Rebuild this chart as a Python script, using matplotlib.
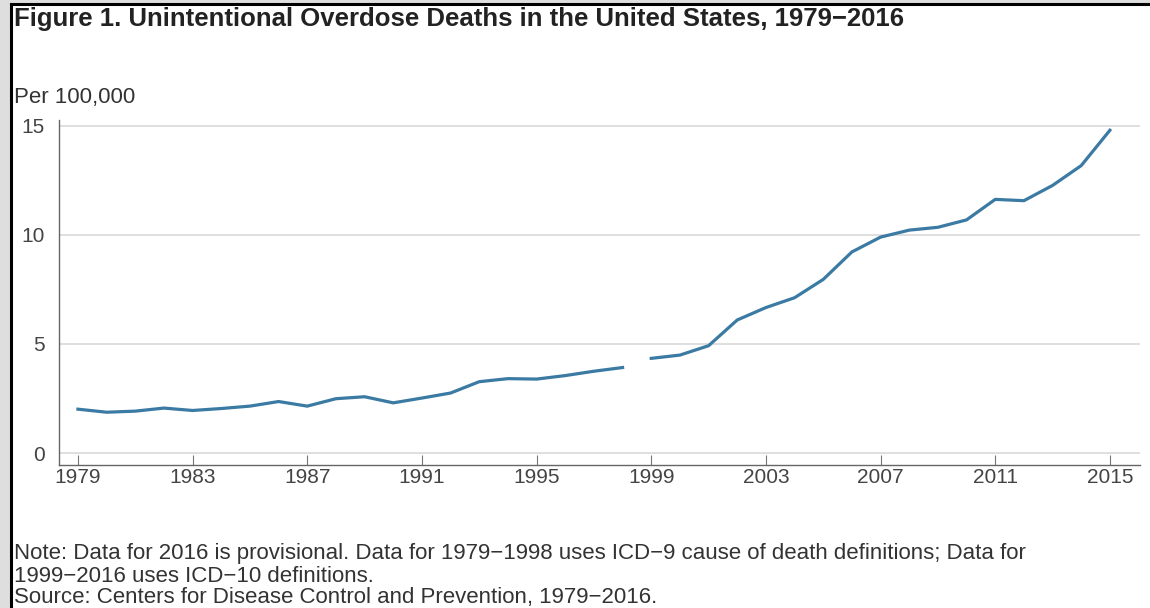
#!/usr/bin/env python3

import matplotlib.pyplot as plt
from matplotlib.patches import Rectangle

# ICD-9 era, 1979-1998
years_icd9 = list(range(1979, 1999))
rate_icd9 = [2.01, 1.87, 1.92, 2.06, 1.95, 2.04, 2.15, 2.36, 2.15, 2.49,
             2.58, 2.30, 2.52, 2.75, 3.27, 3.41, 3.39, 3.55, 3.75, 3.92]

# ICD-10 era, 1999-2015
years_icd10 = list(range(1999, 2016))
rate_icd10 = [4.34, 4.49, 4.92, 6.10, 6.67, 7.12, 7.96, 9.22, 9.90, 10.22,
              10.35, 10.69, 11.63, 11.57, 12.27, 13.18, 14.80]

xticks = list(range(1979, 2016, 4))
yticks = [0, 5, 10, 15]

title = "Figure 1. Unintentional Overdose Deaths in the United States, 1979\u22122016"
note_lines = [
    "Note: Data for 2016 is provisional. Data for 1979\u22121998 uses ICD\u22129 "
    "cause of death definitions; Data for",
    "1999\u22122016 uses ICD\u221210 definitions.",
    "Source: Centers for Disease Control and Prevention, 1979\u22122016.",
]


def main():
    plt.rcParams["font.family"] = ["Liberation Sans", "DejaVu Sans"]

    W, H = 1150, 608
    fig = plt.figure(figsize=(W / 100, H / 100), dpi=100, facecolor="#dedede")

    # white panel with black frame on the left and top
    fig.add_artist(Rectangle((11 / W, 0), 1, 1 - 4 / H, transform=fig.transFigure,
                             facecolor="white", edgecolor="none", zorder=-10))
    fig.add_artist(plt.Line2D([11 / W, 11 / W], [0, 1 - 4 / H], color="black",
                              lw=2.2, transform=fig.transFigure, zorder=-5))
    fig.add_artist(plt.Line2D([11 / W, 1], [1 - 4 / H, 1 - 4 / H], color="black",
                              lw=2.2, transform=fig.transFigure, zorder=-5))

    ax = fig.add_axes([59 / W, 1 - 465 / H, (1140 - 59) / W, (465 - 120) / H])
    ax.set_facecolor("white")

    color = "#3a7aa3"
    ax.plot(years_icd9, rate_icd9, color=color, lw=2.3)
    ax.plot(years_icd10, rate_icd10, color=color, lw=2.3)

    ax.set_xlim(1978.34, 2016.05)
    ax.set_ylim(-0.55, 15.27)

    ax.set_yticks(yticks)
    ax.set_yticklabels([str(v) for v in yticks])
    ax.set_xticks(xticks)
    ax.set_xticklabels([str(v) for v in xticks])

    ax.grid(axis="y", color="#d9d9d9", lw=1.2)
    ax.set_axisbelow(True)

    for side in ["top", "right"]:
        ax.spines[side].set_visible(False)
    for side in ["left", "bottom"]:
        ax.spines[side].set_color("#666666")
        ax.spines[side].set_linewidth(1.0)

    ax.tick_params(axis="y", length=0, pad=10, labelsize=15, labelcolor="#444444")
    ax.tick_params(axis="x", direction="in", length=7, width=0.8, color="#777777",
                   pad=2, labelsize=15, labelcolor="#444444")

    fig.text(14 / W, 1 - 19 / H, title, fontsize=18.5, fontweight="bold",
             color="#222222", va="center", ha="left")
    fig.text(14 / W, 1 - 97 / H, "Per 100,000", fontsize=16, color="#333333",
             va="center", ha="left")
    for text, y in zip(note_lines, [553, 576, 597]):
        fig.text(14 / W, 1 - y / H, text, fontsize=16, color="#333333",
                 va="center", ha="left")

    fig.savefig("out.png", dpi=100, facecolor=fig.get_facecolor())


if __name__ == "__main__":
    main()
